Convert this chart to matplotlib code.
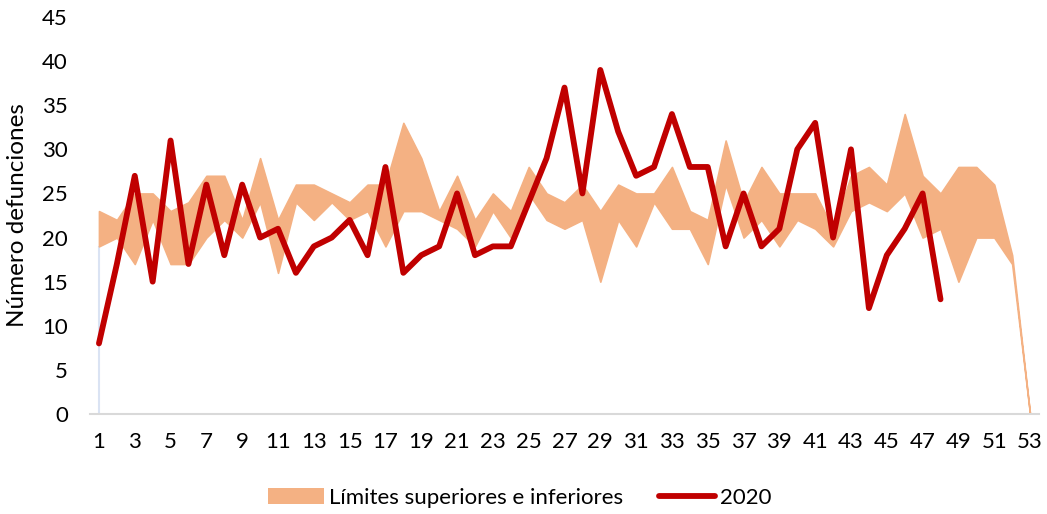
import matplotlib
matplotlib.use('Agg')
import matplotlib.pyplot as plt
from matplotlib.patches import Patch
from matplotlib.lines import Line2D
import numpy as np

plt.rcParams['font.family'] = ['Lato', 'DejaVu Sans']

# Weekly data (semanas epidemiológicas)
weeks = np.arange(1, 54)
lim_sup = [23, 22, 25, 25, 23, 24, 27, 27, 22, 29, 22, 26, 26, 25, 24, 26, 26, 33, 29, 23,
           27, 22, 25, 23, 28, 25, 24, 26, 23, 26, 25, 25, 28, 23, 22, 31, 24, 28, 25, 25,
           25, 21, 27, 28, 26, 34, 27, 25, 28, 28, 26, 18, 0]
lim_inf = [19, 20, 17, 22, 17, 17, 20, 22, 20, 24, 16, 24, 22, 24, 22, 23, 19, 23, 23, 22,
           21, 19, 23, 20, 25, 22, 21, 22, 15, 22, 19, 24, 21, 21, 17, 26, 20, 22, 19, 22,
           21, 19, 23, 24, 23, 25, 20, 21, 15, 20, 20, 17, 0]
deaths_2020 = [8, 17, 27, 15, 31, 17, 26, 18, 26, 20, 21, 16, 19, 20, 22, 18, 28, 16, 18, 19,
               25, 18, 19, 19, 24, 29, 37, 25, 39, 32, 27, 28, 34, 28, 28, 19, 25, 19, 21, 30,
               33, 20, 30, 12, 18, 21, 25, 13]
weeks_2020 = weeks[:len(deaths_2020)]

band_color = '#F4B183'
line_color = '#C00000'

fig = plt.figure(figsize=(10.47, 5.14), dpi=100)
ax = fig.add_axes([90 / 1047, 1 - 414 / 514, 949 / 1047, 397 / 514])

ax.fill_between(weeks, lim_inf, lim_sup, facecolor=band_color, edgecolor=band_color,
                linewidth=1.2, zorder=2)
# thin edge of the lower series at the first week
ax.vlines(weeks[0], 0, lim_inf[0], color='#DAE3F3', linewidth=1.5, zorder=1)
ax.plot(weeks_2020, deaths_2020, color=line_color, linewidth=4.2,
        solid_joinstyle='round', solid_capstyle='round', zorder=3)

ax.set_xlim(0.5, 53.5)
ax.set_ylim(0, 45)
ax.set_yticks(np.arange(0, 46, 5))
ax.set_xticks(weeks[::2])
ax.tick_params(axis='both', length=0, labelsize=16, colors='black')
ax.tick_params(axis='y', pad=16)
ax.tick_params(axis='x', pad=13)

for s in ['top', 'right', 'left']:
    ax.spines[s].set_visible(False)
ax.spines['bottom'].set_color('#D9D9D9')
ax.spines['bottom'].set_linewidth(1.5)

ax.set_ylabel('Número defunciones', fontsize=17.5)
ax.yaxis.set_label_coords(-0.0653, 0.5)

handles = [Patch(facecolor=band_color, edgecolor='none'),
           Line2D([0], [0], color=line_color, linewidth=4.2, solid_capstyle='round')]
labels = ['Límites superiores e inferiores', '2020']
fig.legend(handles, labels, loc='center', bbox_to_anchor=(520 / 1047, 1 - 498 / 514),
           ncol=2, frameon=False, fontsize=16, handlelength=2.5, handletextpad=0.25,
           columnspacing=1.6)

fig.savefig('out.png', dpi=100)
